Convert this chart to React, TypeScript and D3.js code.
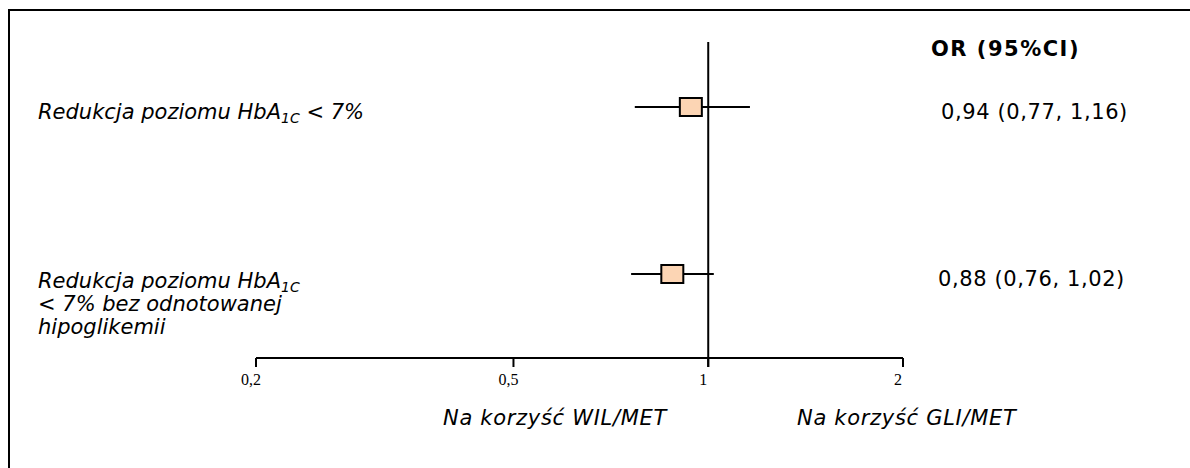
import { useEffect, useRef } from "react";
import * as d3 from "d3";

// outcomes (label lines, |..| = subscript), odds ratios and CIs
const outcomes = ["row1", "row2"];
const labelLines = [
  ["Redukcja poziomu HbA|1C| < 7%"],
  ["Redukcja poziomu HbA|1C|", "< 7% bez odnotowanej", "hipoglikemii"],
];
const oddsRatio = [0.94, 0.88];
const ciLow = [0.77, 0.76];
const ciHigh = [1.16, 1.02];
const orText = ["0,94 (0,77, 1,16)", "0,88 (0,76, 1,02)"];

const tickValues = [0.2, 0.5, 1, 2];
const tickLabels = ["0,2", "0,5", "1", "2"];

const favourLeft = "Na korzyść WIL/MET";
const favourRight = "Na korzyść GLI/MET";
const headerText = "OR (95%CI)";

const W = 1190;
const H = 468;

export default function App() {
  const svgRef = useRef<SVGSVGElement>(null);

  useEffect(() => {
    const svg = d3.select(svgRef.current);
    svg.selectAll("*").remove();

    const axisY = 358;
    const x = d3.scaleLog().domain([0.2, 2]).range([256, 903]);
    const y = d3.scalePoint<string>().domain(outcomes).range([107, 274]);

    const font = "'DejaVu Sans', Verdana, sans-serif";

    // frame (clipped on right and bottom)
    svg
      .append("path")
      .attr("d", `M9,${H + 5}V10H${W + 5}`)
      .attr("fill", "none")
      .attr("stroke", "#000")
      .attr("stroke-width", 2);

    // reference line at OR = 1
    svg
      .append("line")
      .attr("x1", x(1))
      .attr("x2", x(1))
      .attr("y1", 42)
      .attr("y2", axisY + 9)
      .attr("stroke", "#000")
      .attr("stroke-width", 2);

    // axis
    svg
      .append("line")
      .attr("x1", x(0.2))
      .attr("x2", x(2))
      .attr("y1", axisY)
      .attr("y2", axisY)
      .attr("stroke", "#000")
      .attr("stroke-width", 2);

    tickValues.forEach((t, i) => {
      svg
        .append("line")
        .attr("x1", x(t))
        .attr("x2", x(t))
        .attr("y1", axisY)
        .attr("y2", axisY + 9)
        .attr("stroke", "#000")
        .attr("stroke-width", 2);
      svg
        .append("text")
        .attr("x", x(t) - 5)
        .attr("y", axisY + 27)
        .attr("text-anchor", "middle")
        .attr("font-family", "'Liberation Serif', 'Times New Roman', serif")
        .attr("font-size", 16)
        .text(tickLabels[i]);
    });

    // CI lines and boxes
    outcomes.forEach((o, i) => {
      const cy = y(o)!;
      svg
        .append("line")
        .attr("x1", x(ciLow[i]))
        .attr("x2", x(ciHigh[i]))
        .attr("y1", cy)
        .attr("y2", cy)
        .attr("stroke", "#000")
        .attr("stroke-width", 2);
      svg
        .append("rect")
        .attr("x", x(oddsRatio[i]) - 11)
        .attr("y", cy - 9)
        .attr("width", 22)
        .attr("height", 18)
        .attr("fill", "#FCD5B4")
        .attr("stroke", "#000")
        .attr("stroke-width", 2);

      // right-hand OR text
      svg
        .append("text")
        .attr("x", i === 0 ? 941 : 938)
        .attr("y", cy + 12)
        .attr("font-family", font)
        .attr("font-size", 21)
        .attr("letter-spacing", 0.6)
        .text(orText[i]);

      // left label
      const baseY = i === 0 ? cy + 12 : cy + 14;
      labelLines[i].forEach((line, j) => {
        const t = svg
          .append("text")
          .attr("x", 38)
          .attr("y", baseY + j * 23)
          .attr("font-family", font)
          .attr("font-style", "italic")
          .attr("font-size", 21);
        line.split("|").forEach((part, k) => {
          if (k === 1) {
            t.append("tspan")
              .attr("font-size", 14)
              .attr("dy", 4)
              .text(part);
          } else if (k === 2) {
            t.append("tspan").attr("dy", -4).text(part);
          } else {
            t.append("tspan").text(part);
          }
        });
      });
    });

    svg
      .append("text")
      .attr("x", 931)
      .attr("y", 56)
      .attr("font-family", font)
      .attr("font-weight", "bold")
      .attr("font-size", 21)
      .attr("letter-spacing", 1.5)
      .text(headerText);

    svg
      .append("text")
      .attr("x", 443)
      .attr("y", 425)
      .attr("font-family", font)
      .attr("font-style", "italic")
      .attr("font-size", 21)
      .attr("letter-spacing", 0.7)
      .text(favourLeft);

    svg
      .append("text")
      .attr("x", 797)
      .attr("y", 425)
      .attr("font-family", font)
      .attr("font-style", "italic")
      .attr("font-size", 21)
      .attr("letter-spacing", 0.7)
      .text(favourRight);
  }, []);

  return (
    <svg
      ref={svgRef}
      width={W}
      height={H}
      style={{ position: "absolute", left: 0, top: 0, background: "#fff" }}
    ></svg>
  );
}
